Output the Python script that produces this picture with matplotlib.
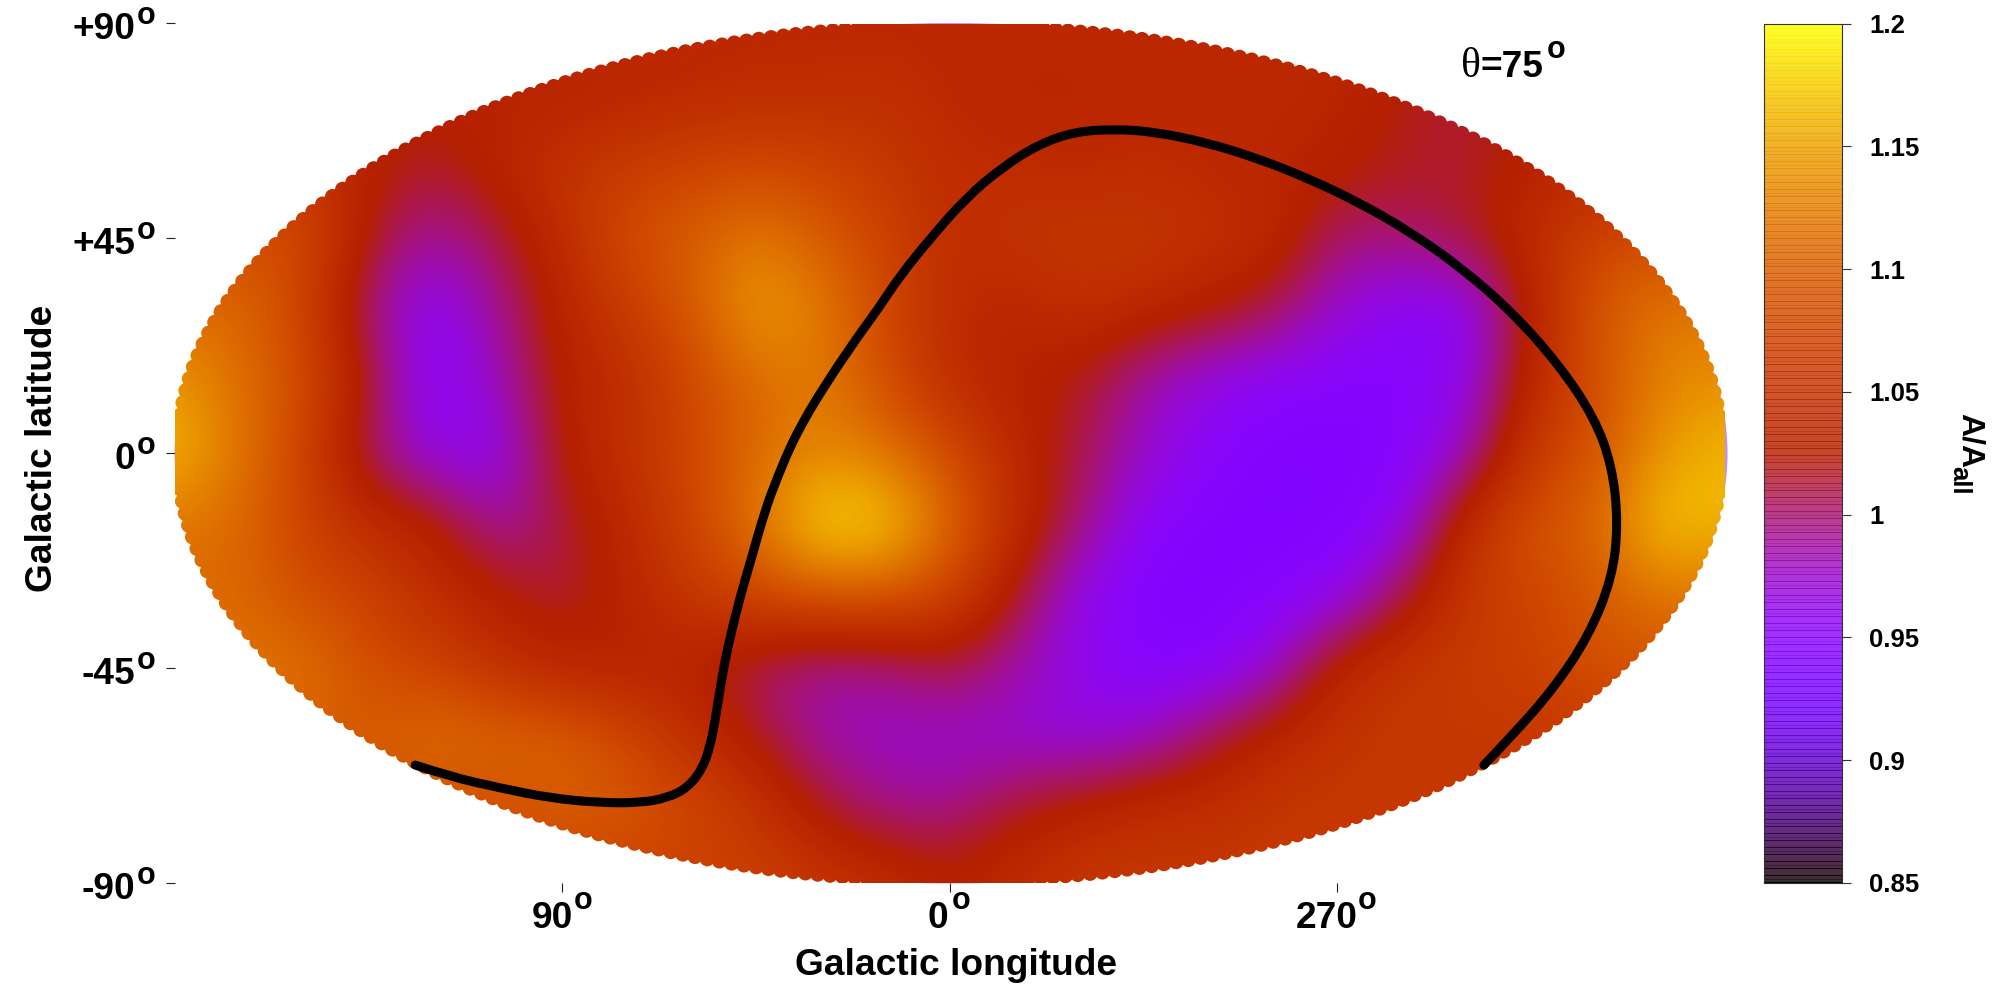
import numpy as np
import matplotlib
matplotlib.use("Agg")
import matplotlib.pyplot as plt
from matplotlib.colors import ListedColormap
from matplotlib.path import Path
from matplotlib.patches import Ellipse, PathPatch
from matplotlib.transforms import Affine2D

plt.rcParams['font.family'] = ['Liberation Sans', 'DejaVu Sans']

# ratio map read on a 15 degree grid of the projected plane (top row first)
row_p90 = [1.04]*25
row_p75 = [1.03]*7 + [1.035, 1.04, 1.045, 1.045, 1.05, 1.04, 1.035, 1.035, 1.04, 1.04, 1.04, 1.035, 1.02, 1.01, 1.03, 1.03, 1.03, 1.03]
row_p60 = [1.06, 1.06, 1.06, 1.03, 1.015, 1.035, 1.055, 1.065, 1.075, 1.08, 1.075, 1.06, 1.045, 1.045, 1.04, 1.045, 1.04, 1.035, 1.03, 1.02, 1.015, 1.03, 1.04, 1.04, 1.04]
row_p45 = [1.085, 1.085, 1.085, 1.02, 0.985, 1.01, 1.045, 1.085, 1.10, 1.125, 1.10, 1.075, 1.045, 1.055, 1.06, 1.06, 1.05, 1.045, 1.0, 1.0, 1.015, 1.045, 1.075, 1.085, 1.085]
row_p30 = [1.11, 1.11, 1.075, 0.995, 0.95, 0.99, 1.035, 1.065, 1.095, 1.15, 1.125, 1.08, 1.045, 1.035, 1.05, 1.04, 1.03, 1.01, 0.97, 0.95, 0.95, 1.03, 1.095, 1.12, 1.12]
row_p15 = [1.145, 1.115, 1.085, 1.02, 0.945, 0.98, 1.03, 1.045, 1.08, 1.11, 1.125, 1.085, 1.045, 1.03, 1.02, 0.985, 0.96, 0.95, 0.945, 0.945, 0.96, 1.04, 1.085, 1.13, 1.14]
row_0 = [1.165, 1.12, 1.075, 1.0, 0.96, 0.955, 1.03, 1.05, 1.08, 1.11, 1.135, 1.12, 1.085, 1.04, 1.01, 0.975, 0.95, 0.94, 0.94, 0.945, 0.975, 1.065, 1.09, 1.145, 1.165]
row_m15 = [1.12, 1.11, 1.075, 1.045, 1.035, 0.985, 1.01, 1.04, 1.075, 1.12, 1.185, 1.18, 1.11, 1.045, 1.0, 0.95, 0.94, 0.94, 0.94, 0.955, 1.05, 1.09, 1.105, 1.175, 1.16]
row_m30 = [1.11, 1.11, 1.085, 1.075, 1.045, 1.03, 1.01, 1.035, 1.06, 1.08, 1.095, 1.095, 1.075, 1.02, 0.96, 0.94, 0.94, 0.945, 0.955, 1.01, 1.06, 1.075, 1.095, 1.12, 1.12]
row_m45 = [1.12, 1.12, 1.12, 1.085, 1.075, 1.05, 1.035, 1.03, 1.03, 1.0, 0.985, 0.99, 1.01, 0.985, 0.96, 0.945, 0.945, 0.97, 1.04, 1.06, 1.065, 1.07, 1.09, 1.09, 1.09]
row_m60 = [1.10, 1.10, 1.10, 1.10, 1.115, 1.11, 1.105, 1.08, 1.05, 1.02, 0.985, 0.975, 0.97, 0.97, 0.965, 0.975, 1.01, 1.04, 1.055, 1.06, 1.06, 1.06, 1.06, 1.06, 1.06]
row_m75 = [1.085]*6 + [1.10, 1.095, 1.08, 1.06, 1.02, 0.995, 0.995, 1.02, 1.035, 1.05, 1.05, 1.06, 1.06, 1.06, 1.06, 1.06, 1.06, 1.06, 1.06]
row_m90 = [1.07]*10 + [1.06, 1.05, 1.03, 1.045, 1.06] + [1.06]*10

# black curve, in projected degrees
curve_x = [-124.2, -116.1, -104.5, -92.9, -81.3, -72.0, -65.7, -61.0, -57.6, -55.7, -54.5, -53.4, -52.2, -50.6, -48.7,
           -46.4, -42.9, -40.1, -37.1, -34.1, -31.1, -23.6, -16.2, -11.6, -4.4, 3.8, 12.2, 20.5, 28.8, 38.2, 47.7, 59.5,
           71.4, 83.2, 95.1, 106.9, 118.8, 130.6, 141.3, 149.7, 153.9, 155.3, 153.9, 148.5, 140.2, 130.6, 124.1]
curve_y = [-65.3, -67.7, -70.1, -72.2, -73.2, -73.2, -72.2, -70.1, -66.3, -61.5, -55.9, -49.6, -43.3, -37.0, -30.1,
           -23.0, -11.9, -5.2, 1.3, 6.5, 11.2, 21.6, 30.8, 37.1, 45.1, 53.5, 59.9, 64.6, 67.3, 67.9, 67.3, 65.1,
           61.8, 57.6, 52.5, 46.4, 38.9, 29.6, 18.8, 7.6, -2.7, -14.8, -26.1, -38.2, -49.4, -59.2, -65.3]

lat_ticks = [90, 45, 0, -45, -90]
lat_labels = ['+90', '+45', '0', '-45', '-90']
lon_ticks = [-90, 0, 90]
lon_labels = ['90', '0', '270']
cb_ticks = [0.85, 0.9, 0.95, 1, 1.05, 1.1, 1.15, 1.2]
cb_labels = ['0.85', '0.9', '0.95', '1', '1.05', '1.1', '1.15', '1.2']

vmin, vmax = 0.85, 1.2

# gnuplot default pm3d palette
g = np.linspace(0, 1, 512)
pal = np.column_stack([np.sqrt(g), g**3, np.clip(np.sin(2*np.pi*g), 0, 1)])
cmap = ListedColormap(pal)

W, H = 2000, 1000
fig = plt.figure(figsize=(20, 10), dpi=100)
ax = fig.add_axes([175/W, 1-883/H, 1549.5/W, 859.5/H])
ax.set_xlim(-180, 180)
ax.set_ylim(-90, 90)
for s in ax.spines.values():
    s.set_visible(False)

sx = 1549.5/360
sy = 859.5/180

# scalloped outline: dots along the ellipse
cx, cy = 180 - 2.5/sx, 90 - 2.5/sy
t = np.linspace(0, 2*np.pi, 4001)
ex, ey = cx*np.cos(t), cy*np.sin(t)
arc = np.concatenate([[0], np.cumsum(np.hypot(np.diff(ex)*sx, np.diff(ey)*sy))])
tt = np.interp(np.arange(0, arc[-1], 12.4), arc, t)
r = 7.5
pieces = [Path.unit_circle().transformed(Affine2D().scale(178.5, 88.5))]
for a in tt:
    pieces.append(Path.unit_circle().transformed(
        Affine2D().scale(r/sx, r/sy).translate(cx*np.cos(a), cy*np.sin(a))))
outline = Path.make_compound_path(*pieces)

ax.add_patch(Ellipse((0.3, 0), 2*180.4, 2*90.1, fc='#c08cff', ec='none', zorder=1, clip_on=False))

grid = np.array([row_p90, row_p75, row_p60, row_p45, row_p30, row_p15, row_0,
                 row_m15, row_m30, row_m45, row_m60, row_m75, row_m90])
im = ax.imshow(grid, extent=(-187.5, 187.5, -97.5, 97.5), origin='upper', cmap=cmap,
               vmin=vmin, vmax=vmax, interpolation='bicubic', aspect='auto', zorder=2)
ax.set_xlim(-180, 180)
ax.set_ylim(-90, 90)
clip = PathPatch(outline, transform=ax.transData, fc='none', ec='none')
ax.add_patch(clip)
clip.set_clip_on(False)
im.set_clip_path(clip)

# smooth stroke: the read points act as quadratic control points
pts = np.column_stack([curve_x, curve_y])
mids = 0.5*(pts[1:-2]+pts[2:-1])
verts = [pts[0]]
codes = [Path.MOVETO]
for c, m in zip(pts[1:-2], mids):
    verts += [c, m]
    codes += [Path.CURVE3, Path.CURVE3]
verts += [pts[-2], pts[-1]]
codes += [Path.CURVE3, Path.CURVE3]
ax.add_patch(PathPatch(Path(verts, codes), fc='none', ec='k', lw=6.5, capstyle='round', joinstyle='round', zorder=3))

fs = 26.7
fo = 22
ax.set_xticks(lon_ticks)
ax.set_yticks(lat_ticks)
ax.set_xticklabels([])
ax.set_yticklabels([])
ax.tick_params(length=6.5, width=0.8, color='#222222', direction='out')


def px_text(x, y, s, **kw):
    kw.setdefault('fontsize', fs)
    kw.setdefault('fontweight', 'bold')
    kw.setdefault('color', 'k')
    return fig.text(x/W, 1-y/H, s, **kw)


for v, lab in zip(lat_ticks, lat_labels):
    yp = 883 - (v+90)*sy
    px_text(135, yp+16, lab, ha='right', va='baseline')
    px_text(137, yp+0.5, 'o', ha='left', va='baseline', fontsize=fo)
for v, lab, dx, ox in zip(lon_ticks, lon_labels, [-10, -12, -10.5], [11, 2, 21]):
    xp = 175 + (v+180)*sx
    px_text(xp+dx, 928, lab, ha='center', va='baseline')
    px_text(xp+ox, 909, 'o', ha='left', va='baseline', fontsize=fo)

px_text(956, 975, 'Galactic longitude', ha='center', va='baseline')
px_text(52, 448, 'Galactic latitude', ha='center', va='baseline', rotation=90, rotation_mode='anchor')

# theta label
px_text(1461, 77, 'θ', family=['Liberation Serif', 'DejaVu Serif'], fontweight='normal', fontsize=30, ha='left', va='baseline')
px_text(1481, 77, '=75', ha='left', va='baseline')
px_text(1547, 58, 'o', ha='left', va='baseline', fontsize=fo)

# colour bar with its banded look
cax = fig.add_axes([1764/W, 1-883/H, 77.7/W, 859.5/H])
levels = np.linspace(vmin, vmax, 861)
mid = 0.5*(levels[1:]+levels[:-1])
alpha = np.full((860, 1), 0.82)
alpha[::7] = 1.0
alpha[3::14] = 0.9
cax.pcolormesh([0, 1], levels, mid[:, None], cmap=cmap, vmin=vmin, vmax=vmax, alpha=alpha, shading='flat', rasterized=True)
cax.set_xticks([])
cax.set_ylim(vmin, vmax)
cax.yaxis.tick_right()
cax.set_yticks(cb_ticks)
cax.set_yticklabels(cb_labels, fontsize=18.5, fontweight='bold')
cax.tick_params(axis='y', length=6.5, width=0.8, pad=13.5, color='#333333')
for s in cax.spines.values():
    s.set_linewidth(0.8)
    s.set_color('#333333')

px_text(1985, 413, 'A/A', fontsize=23, rotation=-90, ha='right', va='top')
px_text(1971, 466, 'all', fontsize=18.5, rotation=-90, ha='right', va='top')

fig.savefig('out.png', dpi=100)
